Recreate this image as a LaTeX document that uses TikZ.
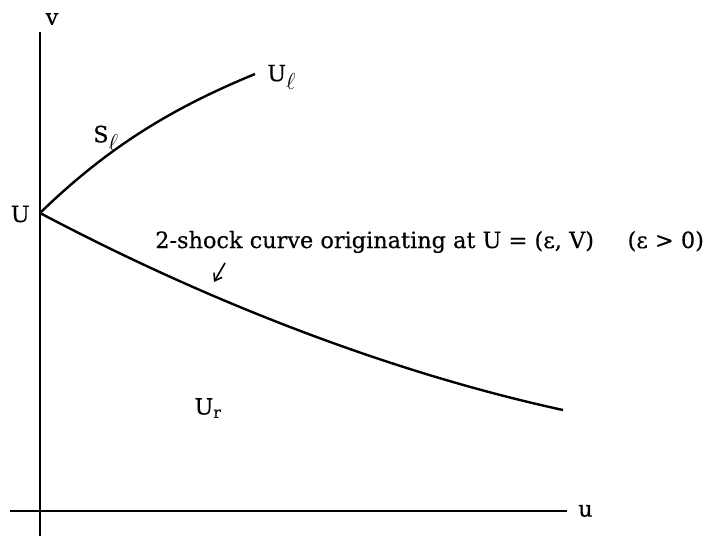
\documentclass[tikz,border=0pt]{standalone}
\usepackage{fontspec}
\setmainfont{DejaVu Serif}[FakeBold=0.4]
\usetikzlibrary{arrows.meta}

\begin{document}
\begin{tikzpicture}[
  x=0.75pt, y=-0.75pt,
  axis/.style={line width=1.7pt},
  curve/.style={line width=1.8pt, line join=round},
  lbl/.style={font=\fontsize{16.8}{20}\selectfont, inner sep=0pt},
  pointer/.style={-{Straight Barb[length=5pt, width=7pt]}, line width=1.2pt}
]
  \useasboundingbox (0,0) rectangle (712,536);

  % axes
  \coordinate (vtop) at (40,32);
  \coordinate (vbot) at (40,536);
  \coordinate (uleft) at (10,511);
  \coordinate (uright) at (567,511);
  \draw[axis] (vbot) -- (vtop);
  \draw[axis] (uleft) -- (uright);
  \node[lbl] (vlab) at (52,19) {v};
  \node[lbl, anchor=west] (ulab) at (578,511) {u};

  % state U and the two curves through it
  \coordinate (U) at (40,213);
  \coordinate (Ul) at (255,74);
  \coordinate (Uend) at (563,410);
  \node[lbl, anchor=east] (Ulab) at (30,214) {U};
  \draw[curve] (U) .. controls (110,145) and (175,107) .. (Ul);
  \draw[curve] (U) .. controls (210,303) and (393,373) .. (Uend);
  \node[lbl, anchor=west] (Ullab) at (267,77) {U$_{\textstyle\ell}$};
  \node[lbl] (Sl) at (106,138) {S$_{\textstyle\ell}$};
  \node[lbl] (Ur) at (208,408) {U$_\mathrm{r}$};

  % label of the 2-shock curve
  \node[lbl, anchor=base west] (shock) at (155,248)
    {2-shock curve originating at U = (ε, V)\hspace{1.5em}(ε > 0)};
  \coordinate (ptail) at (225,263);
  \coordinate (phead) at (214,282);
  \draw[pointer] (ptail) -- (phead);
\end{tikzpicture}
\end{document}
